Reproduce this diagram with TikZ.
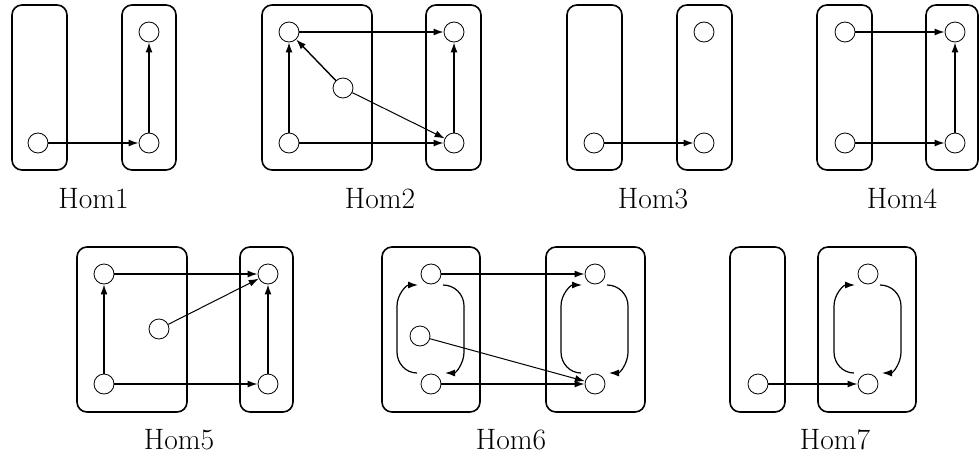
\documentclass[tikz,border=0pt]{standalone}
\usetikzlibrary{arrows.meta}
\newcommand\myloop[2]{%
  \draw[looparr] ([shift={(-14,11)}]#2.center) to[out=180,in=-90] ([shift={(-34,32)}]#2.center) -- ([shift={(-34,-32)}]#1.center) to[out=90,in=180] ([shift={(-13,-11)}]#1.center);
  \draw[looparr] ([shift={(12,-11)}]#1.center) to[out=0,in=90] ([shift={(33,-32)}]#1.center) -- ([shift={(33,32)}]#2.center) to[out=-90,in=0] ([shift={(14,11)}]#2.center);
}
\begin{document}
\begin{tikzpicture}[x=1pt,y=1pt,
  box/.style={draw, line width=1.6pt, rounded corners=10pt, inner sep=0pt, minimum height=165pt},
  vert/.style={circle, draw, line width=0.8pt, minimum size=20pt, inner sep=0pt},
  arr/.style={line width=1.4pt, -{Latex[length=10pt,width=7pt]}},
  thinarr/.style={line width=1pt, -{Latex[length=10pt,width=7pt]}},
  looparr/.style={line width=1.2pt, -{Latex[length=10pt,width=7pt]}},
  lab/.style={anchor=base, inner sep=0pt, font=\fontsize{29.5}{35}\selectfont}]
\useasboundingbox (0,0) rectangle (979,459);
% ---------- Hom1
\node[box, minimum width=55pt] (p1L) at (39.5,371.5) {};
\node[box, minimum width=54pt] (p1R) at (149,371.5) {};
\node[vert] (a1) at (38,316) {};
\node[vert] (b1) at (149,316) {};
\node[vert] (c1) at (149,427) {};
\draw[arr] (a1) -- (b1);
\draw[arr] (b1) -- (c1);
\node[lab] (l1) at (93.5,251) {Hom1};
% ---------- Hom2
\node[box, minimum width=110pt] (p2L) at (317,371.5) {};
\node[box, minimum width=55pt] (p2R) at (453.5,371.5) {};
\node[vert] (tl2) at (289,427) {};
\node[vert] (bl2) at (289,316) {};
\node[vert] (m2) at (343,371) {};
\node[vert] (tr2) at (454,427) {};
\node[vert] (br2) at (454,316) {};
\draw[arr] (tl2) -- (tr2);
\draw[arr] (bl2) -- (br2);
\draw[arr] (bl2) -- (tl2);
\draw[arr] (br2) -- (tr2);
\draw[arr] (m2) -- (tl2);
\draw[thinarr] (m2) -- (br2);
\node[lab] (l2) at (380,251) {Hom2};
% ---------- Hom3
\node[box, minimum width=55pt] (p3L) at (594.5,371.5) {};
\node[box, minimum width=55pt] (p3R) at (704.5,371.5) {};
\node[vert] (bl3) at (594,316) {};
\node[vert] (tr3) at (704,427) {};
\node[vert] (br3) at (704,316) {};
\draw[arr] (bl3) -- (br3);
\node[lab] (l3) at (653,251) {Hom3};
% ---------- Hom4
\node[box, minimum width=55pt] (p4L) at (844.5,371.5) {};
\node[box, minimum width=52pt] (p4R) at (952,371.5) {};
\node[vert] (tl4) at (845,427) {};
\node[vert] (bl4) at (845,316) {};
\node[vert] (tr4) at (955,427) {};
\node[vert] (br4) at (955,316) {};
\draw[arr] (tl4) -- (tr4);
\draw[arr] (bl4) -- (br4);
\draw[arr] (br4) -- (tr4);
\node[lab] (l4) at (902,251) {Hom4};
% ---------- Hom5
\node[box, minimum width=110pt] (p5L) at (132,129.5) {};
\node[box, minimum width=53pt] (p5R) at (266.5,129.5) {};
\node[vert] (tl5) at (104,185) {};
\node[vert] (bl5) at (104,75) {};
\node[vert] (m5) at (159,130) {};
\node[vert] (tr5) at (268,185) {};
\node[vert] (br5) at (268,75) {};
\draw[arr] (tl5) -- (tr5);
\draw[arr] (bl5) -- (br5);
\draw[arr] (bl5) -- (tl5);
\draw[arr] (br5) -- (tr5);
\draw[thinarr] (m5) -- (tr5);
\node[lab] (l5) at (179,10) {Hom5};
% ---------- Hom6
\node[box, minimum width=98pt] (p6L) at (431,129.5) {};
\node[box, minimum width=99pt] (p6R) at (595.5,129.5) {};
\node[vert] (tl6) at (431,185) {};
\node[vert] (ml6) at (420,123) {};
\node[vert] (bl6) at (431,75) {};
\node[vert] (tr6) at (595,185) {};
\node[vert] (br6) at (595,75) {};
\draw[arr] (tl6) -- (tr6);
\draw[arr] (bl6) -- (br6);
\draw[thinarr] (ml6) -- (br6);
\myloop{tl6}{bl6}
\myloop{tr6}{br6}
\node[lab] (l6) at (511,10) {Hom6};
% ---------- Hom7
\node[box, minimum width=55pt] (p7L) at (757.5,129.5) {};
\node[box, minimum width=98pt] (p7R) at (867,129.5) {};
\node[vert] (bl7) at (758,75) {};
\node[vert] (tr7) at (868,185) {};
\node[vert] (br7) at (868,75) {};
\draw[arr] (bl7) -- (br7);
\myloop{tr7}{br7}
\node[lab] (l7) at (835,10) {Hom7};
\end{tikzpicture}
\end{document}
